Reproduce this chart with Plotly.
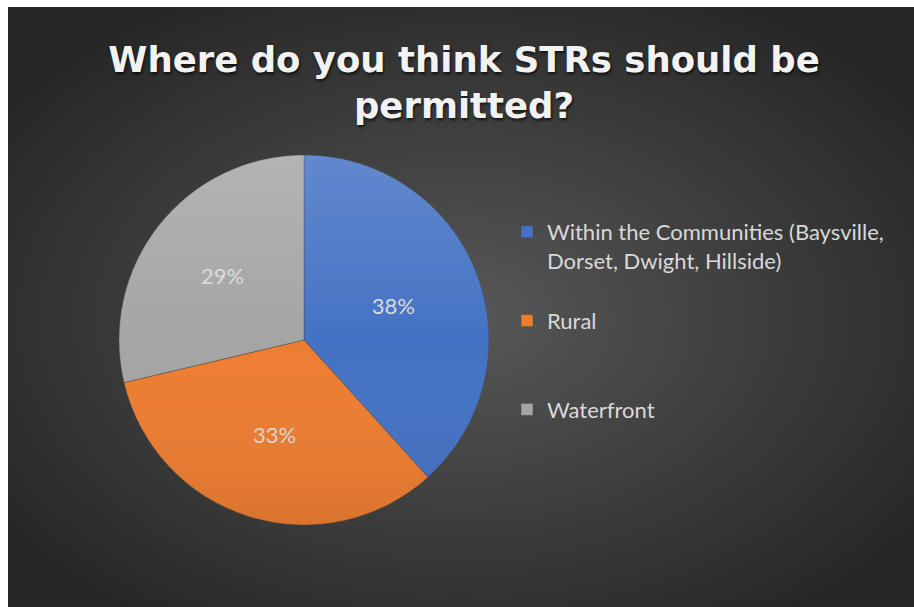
import base64
import plotly.graph_objects as go

# ---- data ----
categories = ["Within the Communities (Baysville,<br>Dorset, Dwight, Hillside)", "Rural", "Waterfront"]
values = [38.3, 33.0, 28.7]
colors = ["#4472C4", "#ED7D31", "#A5A5A5"]
title_text = "Where do you think STRs should be<br>permitted?"

W, H = 914, 607
# pie geometry (pixels)
cx, cy, r = 304, 340, 185

# legend padding lines (spacing like the original)
pads = [1, 2, 0]
legend_labels = [c + "<br> " * p for c, p in zip(categories, pads)]


def svg_uri(svg):
    return "data:image/svg+xml;base64," + base64.b64encode(svg.encode()).decode()


bg_svg = (
    '<svg xmlns="http://www.w3.org/2000/svg" width="906" height="600" viewBox="0 0 906 600" preserveAspectRatio="none">'
    '<defs><radialGradient id="g" cx="50%" cy="52%" r="62%">'
    '<stop offset="0" stop-color="#585858"/><stop offset="1" stop-color="#262626"/>'
    '</radialGradient></defs><rect width="906" height="600" fill="url(#g)"/></svg>'
)
shade_svg = (
    '<svg xmlns="http://www.w3.org/2000/svg" width="100" height="100" viewBox="0 0 100 100" preserveAspectRatio="none">'
    '<defs><linearGradient id="s" x1="0" y1="0" x2="0" y2="1">'
    '<stop offset="0" stop-color="#ffffff" stop-opacity="0.16"/>'
    '<stop offset="0.5" stop-color="#ffffff" stop-opacity="0"/>'
    '<stop offset="1" stop-color="#000000" stop-opacity="0.08"/>'
    '</linearGradient></defs><circle cx="50" cy="50" r="50" fill="url(#s)"/></svg>'
)

dx0, dx1 = (cx - r) / W, (cx + r) / W
dy0, dy1 = (H - cy - r) / H, (H - cy + r) / H

fig = go.Figure(
    go.Pie(
        labels=legend_labels,
        values=values,
        marker=dict(colors=colors, line=dict(color="rgba(70,70,70,0.6)", width=0.7)),
        sort=False,
        direction="clockwise",
        rotation=0,
        textinfo="percent",
        texttemplate="%{percent:.0%}",
        textposition="inside",
        insidetextorientation="horizontal",
        textfont=dict(family="Lato", size=22, color="#D9D9D9"),
        domain=dict(x=[dx0, dx1], y=[dy0, dy1]),
        hoverinfo="label+percent",
    )
)

fig.update_layout(
    width=W,
    height=H,
    margin=dict(l=0, r=0, t=0, b=0),
    paper_bgcolor="white",
    title=dict(
        text=title_text,
        x=464 / W,
        xanchor="center",
        xref="paper",
        y=1 - 72 / H,
        yanchor="top",
        yref="paper",
        font=dict(family="DejaVu Sans", size=35.5, color="#F2F2F2", weight="bold",
                  shadow="1px 2px 3px rgba(0,0,0,0.7)"),
    ),
    legend=dict(
        x=507 / W,
        y=1 - 211 / H,
        xanchor="left",
        yanchor="top",
        valign="top",
        bgcolor="rgba(0,0,0,0)",
        font=dict(family="Lato", size=22, color="#D9D9D9"),
    ),
    images=[
        dict(source=svg_uri(bg_svg), xref="paper", yref="paper", x=8 / W, y=1 - 7 / H,
             sizex=1 - 8 / W, sizey=1 - 7 / H, xanchor="left", yanchor="top",
             sizing="stretch", layer="below"),
        dict(source=svg_uri(shade_svg), xref="paper", yref="paper", x=dx0, y=dy1,
             sizex=dx1 - dx0, sizey=dy1 - dy0, xanchor="left", yanchor="top",
             sizing="stretch", layer="above"),
    ],
)

fig.write_html("out.html")
